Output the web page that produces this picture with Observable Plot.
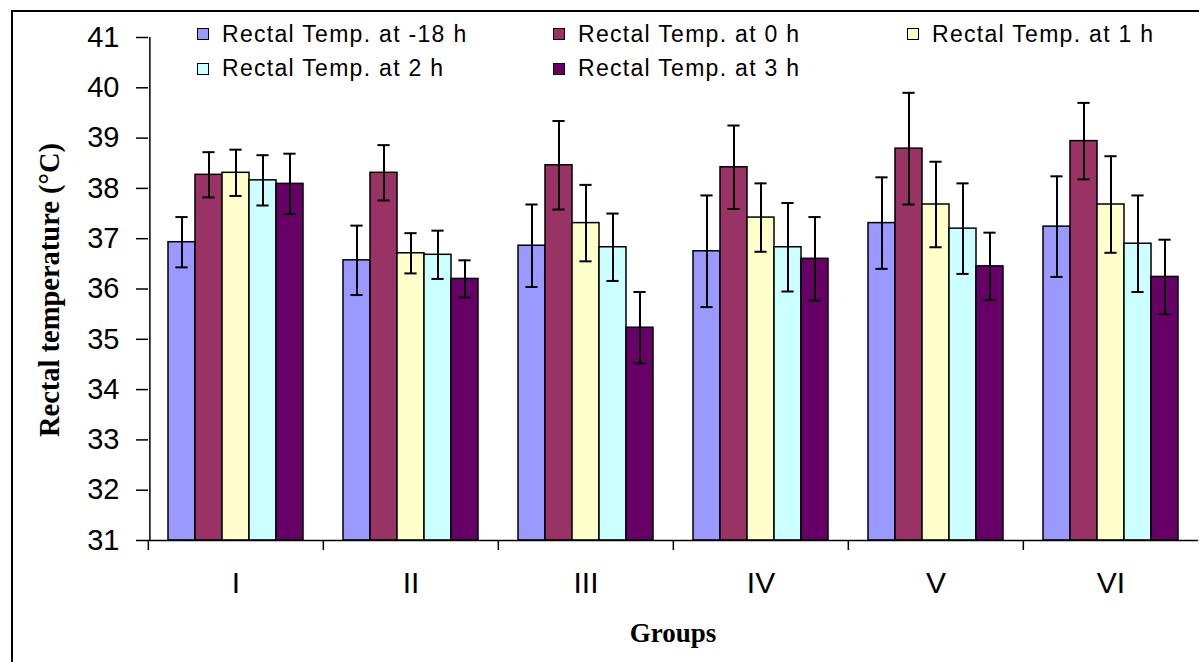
<!DOCTYPE html>
<html>
<head>
<meta charset="utf-8">
<script src="https://cdn.jsdelivr.net/npm/d3@7"></script>
<script src="https://cdn.jsdelivr.net/npm/@observablehq/plot@0.6"></script>
<style>
  body { margin: 0; background: #fff; }
  #wrap { position: relative; width: 1199px; height: 662px; overflow: hidden; background: #fff; }
  #wrap svg { position: absolute; left: 0; top: 0; }
  #border { position: absolute; left: 11px; top: 10px; width: 1300px; height: 800px;
            border-left: 2px solid #000; border-top: 2px solid #000; pointer-events: none; }
  #legend { position: absolute; left: 197px; top: 17px; display: grid;
            grid-template-columns: 356px 354px auto; grid-auto-rows: 34.5px;
            font: 23px "Liberation Sans", Arial, sans-serif; letter-spacing: 1.3px; color: #000; }
  #legend .item { display: flex; align-items: center; white-space: nowrap; }
  #legend .sw { width: 10px; height: 10px; border: 1px solid #000; margin-right: 13px; flex: none; }
  #ytitle { position: absolute; left: 50px; top: 290px; transform: translate(-50%, -50%) rotate(-90deg);
            white-space: nowrap; font: bold 28.5px "Liberation Serif", "Times New Roman", serif; }
  #xtitle { position: absolute; left: 673px; top: 633px; transform: translate(-50%, -50%);
            white-space: nowrap; font: bold 27px "Liberation Serif", "Times New Roman", serif; }
</style>
</head>
<body>
<div id="wrap">
  <div id="border"></div>
  <div id="ytitle">Rectal temperature (°C)</div>
  <div id="xtitle">Groups</div>
  <div id="legend"></div>
</div>
<script>
const groups = ["I", "II", "III", "IV", "V", "VI"];
const series = ["Rectal Temp. at -18 h", "Rectal Temp. at 0 h", "Rectal Temp. at 1 h", "Rectal Temp. at 2 h", "Rectal Temp. at 3 h"];
const colors = ["#9999FF", "#993366", "#FFFFCC", "#CCFFFF", "#660066"];
const yTicks = [31, 32, 33, 34, 35, 36, 37, 38, 39, 40, 41];

// mean rectal temperature per group (I..VI)
const tempM18 = [36.93, 36.57, 36.86, 36.75, 37.31, 37.24];
const temp0   = [38.27, 38.31, 38.46, 38.42, 38.79, 38.94];
const temp1   = [38.31, 36.71, 37.31, 37.42, 37.68, 37.68];
const temp2   = [38.16, 36.68, 36.83, 36.83, 37.20, 36.90];
const temp3   = [38.09, 36.20, 35.23, 36.60, 36.45, 36.24];
// error (±) per group
const errM18 = [0.50, 0.69, 0.82, 1.11, 0.91, 1.00];
const err0   = [0.45, 0.55, 0.88, 0.83, 1.11, 0.76];
const err1   = [0.46, 0.40, 0.76, 0.68, 0.85, 0.96];
const err2   = [0.50, 0.48, 0.67, 0.88, 0.90, 0.96];
const err3   = [0.60, 0.37, 0.71, 0.83, 0.67, 0.74];

const means = [tempM18, temp0, temp1, temp2, temp3];
const errs = [errM18, err0, err1, err2, err3];

const rows = [];
groups.forEach((g, i) => series.forEach((s, j) => rows.push({ group: g, series: s, value: means[j][i], err: errs[j][i] })));

const W = 1199, H = 662, mL = 147, mR = 0, mT = 37, mB = 122;
const padOuter = 0.656;
const groupW = (W - mL - mR) / groups.length;
const halfGroup = groupW / 2;
const step = groupW / (series.length + 2 * padOuter);
const firstBandCenterOffset = step * (padOuter + 0.5);

const chart = Plot.plot({
  width: W, height: H,
  marginLeft: mL, marginRight: mR, marginTop: mT, marginBottom: mB,
  style: { fontFamily: "'Liberation Sans', Arial, sans-serif", background: "transparent", color: "#000" },
  fx: { domain: groups, padding: 0, label: null },
  x: { domain: series, paddingInner: 0, paddingOuter: padOuter, axis: null },
  y: { domain: [31, 41], label: null },
  color: { domain: series, range: colors },
  marks: [
    Plot.barY(rows, { fx: "group", x: "series", y1: 31, y2: "value", fill: "series", stroke: "#000", strokeWidth: 1.5 }),
    Plot.ruleX(rows, { fx: "group", x: "series", y1: d => d.value - d.err, y2: d => d.value + d.err, stroke: "#000", strokeWidth: 2 }),
    Plot.tickY(rows, { fx: "group", x: "series", y: d => d.value + d.err, insetLeft: 7.4, insetRight: 7.4, stroke: "#000", strokeWidth: 2 }),
    Plot.tickY(rows, { fx: "group", x: "series", y: d => d.value - d.err, insetLeft: 7.4, insetRight: 7.4, stroke: "#000", strokeWidth: 2 }),
    Plot.ruleY([31], { stroke: "#000", strokeWidth: 1.5 }),
    // vertical y-axis line at the left edge of the first group
    Plot.ruleX([{ group: groups[0], series: series[0] }], { fx: "group", x: "series", y1: 31, y2: 41, dx: -firstBandCenterOffset, stroke: "#000", strokeWidth: 1.5 }),
    Plot.axisY({ ticks: yTicks, tickSize: 12, tickPadding: 17, fontSize: 29, tickFormat: d => String(d), label: null, stroke: "#000", strokeWidth: 1.5 }),
    Plot.axisFx({ anchor: "bottom", tickSize: 0, tickPadding: 31, fontSize: 30, label: null }),
    Plot.axisFx({ anchor: "bottom", tickSize: 10, tickFormat: () => "", dx: -halfGroup, label: null, stroke: "#000", strokeWidth: 1.5 })
  ]
});

const wrap = document.getElementById("wrap");
wrap.insertBefore(chart, wrap.firstChild);

const legend = document.getElementById("legend");
series.forEach((s, j) => {
  const item = document.createElement("div");
  item.className = "item";
  const sw = document.createElement("span");
  sw.className = "sw";
  sw.style.background = colors[j];
  const t = document.createElement("span");
  t.textContent = s;
  item.appendChild(sw);
  item.appendChild(t);
  legend.appendChild(item);
});
</script>
</body>
</html>
